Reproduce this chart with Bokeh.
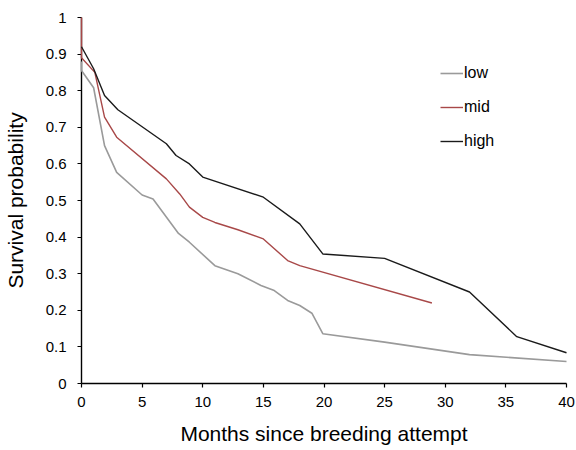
from bokeh.plotting import figure
from bokeh.models import Range1d, FixedTicker, Legend, LegendItem
from bokeh.embed import file_html
from bokeh.resources import INLINE

# Data
low_x = [0, 0, 1, 1.9, 2.9, 5, 5.9, 8, 8.9, 11, 12.9, 14.8, 15.9, 17, 18, 19, 19.9, 25, 32, 40]
low_y = [0.88, 0.855, 0.808, 0.65, 0.577, 0.515, 0.504, 0.41, 0.386, 0.322, 0.30, 0.268, 0.254, 0.227, 0.213, 0.192, 0.136, 0.113, 0.079, 0.06]

mid_x = [0, 0, 1.1, 1.9, 2.9, 7, 8.1, 8.9, 10, 11, 12.9, 15, 17, 18, 28.9]
mid_y = [1.0, 0.89, 0.85, 0.728, 0.673, 0.559, 0.518, 0.482, 0.454, 0.44, 0.42, 0.395, 0.336, 0.322, 0.22]

high_x = [0, 1, 1.9, 3, 7, 7.8, 8.9, 10, 15, 18, 19.9, 25, 32, 35.9, 40]
high_y = [0.92, 0.86, 0.787, 0.748, 0.655, 0.623, 0.60, 0.564, 0.509, 0.436, 0.354, 0.342, 0.25, 0.128, 0.084]

x_ticks = [0, 5, 10, 15, 20, 25, 30, 35, 40]
y_ticks = [0, 0.1, 0.2, 0.3, 0.4, 0.5, 0.6, 0.7, 0.8, 0.9, 1.0]
y_tick_labels = {0: "0", 0.1: "0.1", 0.2: "0.2", 0.3: "0.3", 0.4: "0.4", 0.5: "0.5",
                 0.6: "0.6", 0.7: "0.7", 0.8: "0.8", 0.9: "0.9", 1.0: "1"}

FONT = "Liberation Sans"

p = figure(frame_width=485, frame_height=366, output_backend="svg", toolbar_location=None,
           x_range=Range1d(0, 40), y_range=Range1d(0, 1),
           min_border_left=80, min_border_top=17, min_border_right=10, min_border_bottom=4)
p.outline_line_color = None
p.grid.visible = False
p.background_fill_color = "white"

r_low = p.line(low_x, low_y, line_color="#9a9a9a", line_width=1.6, level="overlay")
r_mid = p.line(mid_x, mid_y, line_color="#a84848", line_width=1.4, level="overlay")
r_high = p.line(high_x, high_y, line_color="#1a1a1a", line_width=1.4, level="overlay")

for ax in (p.xaxis[0], p.yaxis[0]):
    ax.axis_line_color = "black"
    ax.axis_line_width = 1.4
    ax.major_tick_line_color = "black"
    ax.major_tick_line_width = 1.2
    ax.major_tick_out = 4
    ax.major_tick_in = 0
    ax.minor_tick_line_color = None
    ax.major_label_text_font = FONT
    ax.major_label_text_font_size = "15px"
    ax.major_label_text_color = "black"
    ax.axis_label_text_font = FONT
    ax.axis_label_text_font_size = "21px"
    ax.axis_label_text_font_style = "normal"
    ax.axis_label_text_color = "black"

p.xaxis[0].ticker = FixedTicker(ticks=x_ticks)
p.yaxis[0].ticker = FixedTicker(ticks=y_ticks)
p.yaxis[0].major_label_overrides = y_tick_labels
p.xaxis[0].axis_label = "Months since breeding attempt"
p.yaxis[0].axis_label = "Survival probability"
p.xaxis[0].major_label_standoff = 9
p.yaxis[0].major_label_standoff = 11
p.xaxis[0].axis_label_standoff = 12
p.yaxis[0].axis_label_standoff = 16

legend = Legend(items=[LegendItem(label="low", renderers=[r_low]),
                       LegendItem(label="mid", renderers=[r_mid]),
                       LegendItem(label="high", renderers=[r_high])],
                location=(359, 232), orientation="vertical")
legend.border_line_color = None
legend.background_fill_alpha = 0
legend.padding = 0
legend.margin = 0
legend.spacing = 14
legend.glyph_width = 23
legend.glyph_height = 20
legend.label_height = 20
legend.label_standoff = 1
legend.label_text_font = FONT
legend.label_text_font_size = "16px"
legend.label_text_color = "black"
p.add_layout(legend, "center")

open("out.html", "w").write(file_html(p, INLINE))
